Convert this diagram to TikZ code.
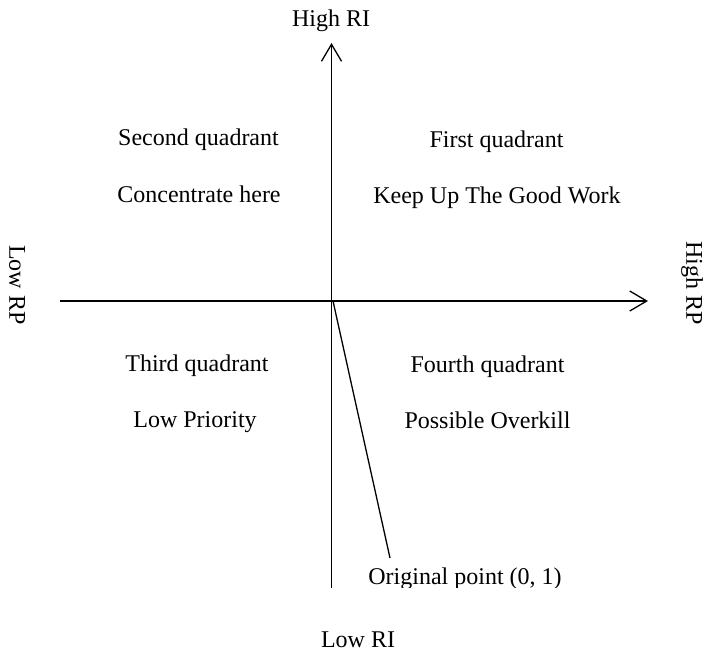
\documentclass[tikz,border=0pt]{standalone}
\usepackage{fontspec}
\setmainfont{Liberation Serif}
\usetikzlibrary{arrows.meta}
\begin{document}
\begin{tikzpicture}[x=1pt,y=-1pt,
  lbl/.style={inner sep=0pt,anchor=base,font=\fontsize{24}{28}\selectfont},
  axis/.style={line width=1.3pt,-{Straight Barb[length=17pt,width=20pt,line width=1.3pt]}},
  plain/.style={line width=1.3pt}]
\useasboundingbox (0,0) rectangle (704,653);
\coordinate (vb) at (331.5,588);
\coordinate (vt) at (331.5,43);
\coordinate (hl) at (60,301);
\coordinate (hr) at (648,301);
\coordinate (o) at (333,301);
\coordinate (pe) at (390,558);
\draw[axis] (vb) -- (vt);
\draw[axis] (hl) -- (hr);
\draw[plain] (o) -- (pe);
\node[lbl] (hri) at (331,27) {High RI};
\node[lbl] (lri) at (358,647) {Low RI};
\node[lbl,rotate=-90,anchor=center] (hrp) at (692,283) {High RP};
\node[lbl,rotate=-90,anchor=center] (lrp) at (17,285) {Low RP};
\node[lbl] (q2) at (198.5,145) {Second quadrant};
\node[lbl] (q2b) at (199,202) {Concentrate here};
\node[lbl] (q1) at (496.5,147) {First quadrant};
\node[lbl] (q1b) at (497,203) {Keep Up The Good Work};
\node[lbl] (q3) at (197,371) {Third quadrant};
\node[lbl] (q3b) at (195,427) {Low Priority};
\node[lbl] (q4) at (487.5,372) {Fourth quadrant};
\node[lbl] (q4b) at (487.5,428) {Possible Overkill};
\begin{scope}
\clip (300,560) rectangle (704,587);
\node[lbl] (op) at (465,584) {Original point (0, 1)};
\end{scope}
\end{tikzpicture}
\end{document}
